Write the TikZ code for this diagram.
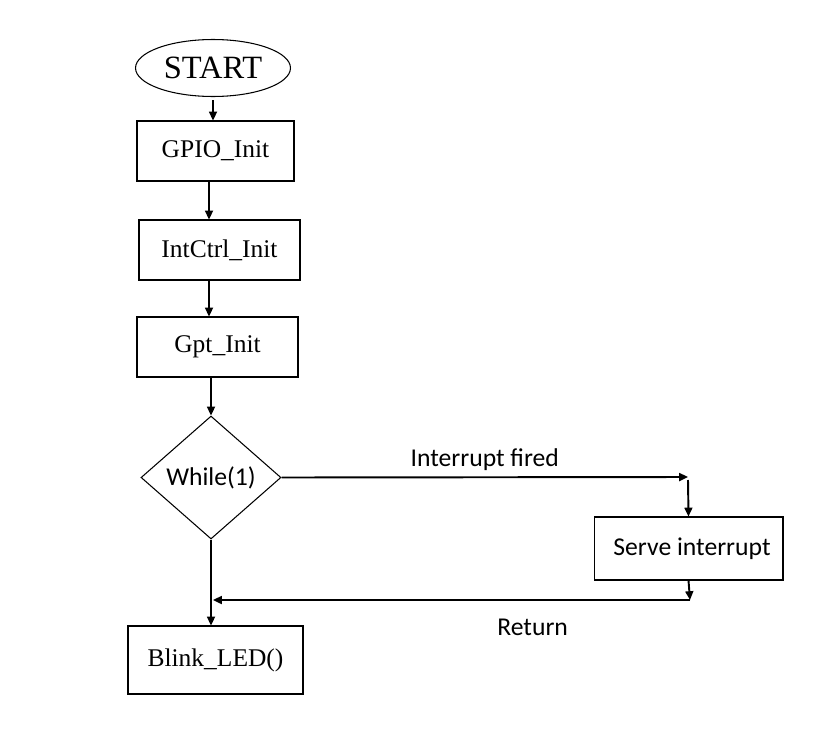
\documentclass[tikz,border=0pt]{standalone}
\usepackage{fontspec}
\setmainfont{Liberation Serif}
\newfontfamily\calibri{Carlito}
\usetikzlibrary{shapes.geometric,arrows.meta}

\tikzset{
    box/.style={draw, line width=0.6pt, inner sep=0pt, font=\fontsize{14.5}{17}\selectfont},
    flow/.style={line width=1.1pt, -{Triangle[length=5pt,width=4.5pt]}},
    tag/.style={font=\calibri\fontsize{14.6}{17}\selectfont},
}

\begin{document}
\begin{tikzpicture}[x=0.02cm, y=-0.02cm]
    \fill [white] (0,0) rectangle (838,730);
    \useasboundingbox (0,0) rectangle (838,730);

    % Start and init chain
    \node [draw, ellipse, line width=0.6pt, inner sep=0pt, minimum width=3.1cm, minimum height=1.14cm,
           font=\fontsize{18.5}{21}\selectfont] (start) at (213,68) {START};
    \node [box, minimum width=3.14cm, minimum height=1.2cm] (gpio) at (215.5,151) {GPIO\_Init};
    \node [box, minimum width=3.22cm, minimum height=1.2cm] (intctrl) at (219.5,250) {IntCtrl\_Init};
    \node [box, minimum width=3.22cm, minimum height=1.2cm] (gpt) at (217.5,347) {Gpt\_Init};

    \draw [flow] ([yshift=-0.06cm]start.south) -- (start.south |- gpio.north);
    \draw [flow] ([xshift=-0.13cm]gpio.south) -- ([xshift=-0.13cm]gpio.south |- intctrl.north);
    \draw [flow] ([xshift=-0.21cm]intctrl.south) -- ([xshift=-0.21cm]intctrl.south |- gpt.north);

    % Main loop
    \node [draw, diamond, line width=0.6pt, inner sep=0pt, minimum width=2.8cm, minimum height=2.46cm,
           tag] (loop) at (211,477.5) {While(1)};
    \draw [flow] (loop.north |- gpt.south) -- (loop.north);

    \node [box, minimum width=3.5cm, minimum height=1.36cm] (blink) at (215.5,660) {Blink\_LED()};
    \draw [flow] (loop.south) -- (loop.south |- blink.north);

    % Interrupt path
    \node [box, tag, minimum width=3.78cm, minimum height=1.26cm] (serve) at (688.5,548.5) {\hspace{0.14cm}Serve interrupt};
    \coordinate (fire) at (688,477);
    \coordinate (ret) at (690,600);

    \draw [flow] (loop.east) -- (fire) node [midway, above, tag] {Interrupt fired};
    \draw [flow] ([yshift=-0.06cm]fire) -- (serve.north);
    \draw [flow] (serve.south) -- (ret);
    \draw [flow] (ret) -- ([xshift=0.04cm]ret -| loop.south) node [pos=0.33, below=0.24cm, tag] {Return};

\end{tikzpicture}
\end{document}
